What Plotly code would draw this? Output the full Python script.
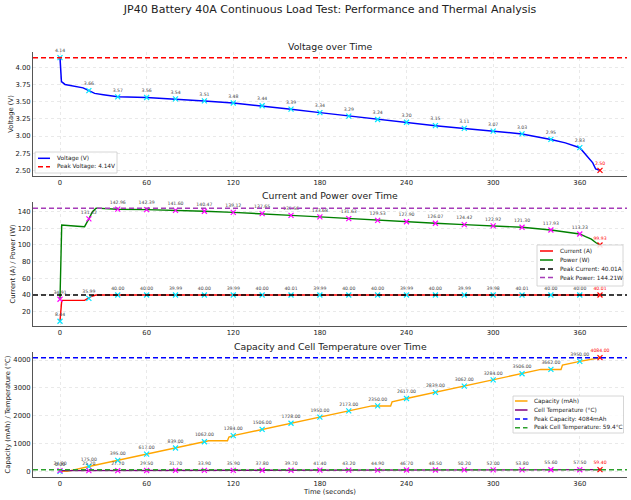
import plotly.graph_objects as go

# ---------------- data ----------------
mark_t = [0, 20, 40, 60, 80, 100, 120, 140, 160, 180, 200, 220, 240, 260, 280, 300, 320, 340, 360, 374]

voltage_mark = [4.14, 3.66, 3.57, 3.56, 3.54, 3.51, 3.48, 3.44, 3.39, 3.34, 3.29, 3.24, 3.20, 3.15, 3.11, 3.07, 3.03, 2.95, 2.83, 2.50]
current_mark = [8.44, 35.99, 40.00, 40.00, 39.99, 40.00, 39.99, 40.00, 40.01, 39.99, 40.00, 40.00, 39.99, 40.00, 39.99, 39.98, 40.01, 40.00, 40.00, 40.01]
power_mark = [34.91, 131.42, 142.96, 142.39, 141.60, 140.47, 139.12, 137.65, 135.56, 133.68, 131.63, 129.53, 127.90, 126.07, 124.42, 122.92, 121.30, 117.93, 113.23, 99.93]
capacity_mark = [0.00, 175.00, 395.00, 617.00, 839.00, 1062.00, 1284.00, 1506.00, 1728.00, 1950.00, 2173.00, 2350.00, 2617.00, 2839.00, 3062.00, 3284.00, 3506.00, 3662.00, 3950.00, 4084.00]
temp_mark = [24.80, 25.70, 27.70, 29.50, 31.70, 33.90, 35.90, 37.80, 39.70, 41.40, 43.20, 44.90, 46.70, 48.50, 50.20, 52.00, 53.80, 55.60, 57.50, 59.40]

volt_t = [0, 1, 3.5, 8, 16, 20, 24, 30, 40, 60, 80, 100, 120, 140, 160, 180, 200, 220, 240, 260, 280, 300, 320, 340, 350, 360, 364, 369, 371, 374]
volt_v = [4.14, 3.79, 3.75, 3.73, 3.70, 3.66, 3.62, 3.60, 3.57, 3.56, 3.54, 3.51, 3.48, 3.44, 3.39, 3.34, 3.29, 3.24, 3.20, 3.15, 3.11, 3.07, 3.03, 2.95, 2.90, 2.83, 2.73, 2.61, 2.52, 2.50]

cur_t = [0, 1.2, 17, 20, 22, 25, 60, 120, 180, 240, 300, 360, 374]
cur_v = [8.44, 33.5, 33.5, 35.99, 38.5, 40.0, 40.0, 39.99, 39.99, 39.99, 39.98, 40.00, 40.01]

pow_t = [0, 1.2, 12, 17, 20, 22.5, 25, 40, 60, 80, 100, 120, 140, 160, 180, 200, 220, 240, 260, 280, 300, 320, 340, 360, 364, 368, 371, 374]
pow_v = [34.91, 124.0, 122.5, 122.0, 131.42, 140.0, 144.21, 142.96, 142.39, 141.60, 140.47, 139.12, 137.65, 135.56, 133.68, 131.63, 129.53, 127.90, 126.07, 124.42, 122.92, 121.30, 117.93, 113.23, 110.0, 107.0, 103.0, 99.93]

cap_t = [0, 5, 20, 40, 60, 80, 100, 103, 116, 117, 120, 140, 160, 180, 200, 216, 229, 230, 240, 260, 280, 300, 320, 333, 347, 348, 360, 374]
cap_v = [0, 0, 175, 395, 617, 839, 1062, 1100, 1100, 1230, 1284, 1506, 1728, 1950, 2173, 2350, 2350, 2500, 2617, 2839, 3062, 3284, 3506, 3662, 3662, 3820, 3950, 4084]

peak_voltage = 4.14
peak_current = 40.01
peak_power = 144.21
peak_capacity = 4084
peak_temp = 59.4

x_ticks = [0, 60, 120, 180, 240, 300, 360]

# ---------------- figure ----------------
FONT = "DejaVu Sans"
W, H = 631, 500
ML, MR, MT, MB = 33, 4, 52, 23
PW, PH = W - ML - MR, H - MT - MB

C_BLUE, C_RED, C_GREEN = "#0000ff", "#ff0000", "#008000"
C_ORANGE, C_PURPLE = "#ffa500", "#800080"
C_PPOW, C_PTEMP = "#a63cb8", "#2ca02c"
DASH = "5px,3px"

fig = go.Figure()


def add_line(x, y, color, xa, ya, width=1.4):
    fig.add_trace(go.Scatter(x=x, y=y, mode="lines", showlegend=False,
                             line=dict(color=color, width=width),
                             xaxis=xa, yaxis=ya, hoverinfo="skip"))


def add_marks(vals, color, xa, ya, fmt="{:.2f}"):
    n = len(vals)
    cols = [color] * (n - 1) + ["red"]
    tcols = ["#444444"] * (n - 1) + ["red"]
    fig.add_trace(go.Scatter(
        x=mark_t, y=vals, mode="markers+text", showlegend=False,
        text=[fmt.format(v) for v in vals], textposition="top center",
        textfont=dict(size=4.6, color=tcols, family=FONT),
        marker=dict(symbol="x-thin", size=5, line=dict(width=1.2, color=cols)),
        xaxis=xa, yaxis=ya, hoverinfo="skip", cliponaxis=False))


# panel 1
add_line(volt_t, volt_v, C_BLUE, "x", "y", 1.5)
add_marks(voltage_mark, "#00e5ff", "x", "y")
# panel 2
add_line(cur_t, cur_v, C_RED, "x2", "y2")
add_line(pow_t, pow_v, C_GREEN, "x2", "y2")
add_marks(current_mark, "#00e5ff", "x2", "y2")
add_marks(power_mark, "#ff00ff", "x2", "y2")
# panel 3
add_line(cap_t, cap_v, C_ORANGE, "x3", "y3")
add_line(mark_t, temp_mark, C_PURPLE, "x3", "y3")
add_marks(capacity_mark, "#00e5ff", "x3", "y3")
add_marks(temp_mark, "#ff00ff", "x3", "y3")

# peak reference lines
peaks = [(peak_voltage, C_RED, "x", "y"), (peak_current, "#000000", "x2", "y2"),
         (peak_power, C_PPOW, "x2", "y2"), (peak_capacity, C_BLUE, "x3", "y3"),
         (peak_temp, C_PTEMP, "x3", "y3")]
for yv, col, xa, ya in peaks:
    fig.add_shape(type="line", xref=f"{xa} domain", x0=0, x1=1, yref=ya, y0=yv, y1=yv,
                  line=dict(color=col, width=1.5, dash=DASH), layer="above")


# ---------------- manual legends (pixel layout) ----------------
def px(xp):
    return (xp - ML) / PW


def py(yp):
    return (H - MB - yp) / PH


legends = [
    dict(box=(35, 152, 117, 173), rows=[158.3, 166.7], sx=(38, 50), tx=55,
         items=[("Voltage (V)", C_BLUE, "solid"), (f"Peak Voltage: {peak_voltage:.2f}V", C_RED, DASH)]),
    dict(box=(537, 245, 623, 286), rows=[251, 260, 269, 277.5], sx=(540, 553), tx=558,
         items=[("Current (A)", C_RED, "solid"), ("Power (W)", C_GREEN, "solid"),
                (f"Peak Current: {peak_current:.2f}A", "#000000", DASH),
                (f"Peak Power: {peak_power:.2f}W", C_PPOW, DASH)]),
    dict(box=(513, 396, 623.5, 433), rows=[401, 410, 419, 427.7], sx=(515, 527.5), tx=532,
         items=[("Capacity (mAh)", C_ORANGE, "solid"), ("Cell Temperature (°C)", C_PURPLE, "solid"),
                (f"Peak Capacity: {peak_capacity}mAh", C_BLUE, DASH),
                (f"Peak Cell Temperature: {peak_temp}°C", C_PTEMP, DASH)]),
]
for lg in legends:
    x0, y0, x1, y1 = lg["box"]
    fig.add_shape(type="rect", xref="paper", yref="paper", x0=px(x0), x1=px(x1), y0=py(y1), y1=py(y0),
                  line=dict(color="#cccccc", width=0.8), fillcolor="rgba(255,255,255,0.85)", layer="above")
    for (label, col, dash), ry in zip(lg["items"], lg["rows"]):
        fig.add_shape(type="line", xref="paper", yref="paper", x0=px(lg["sx"][0]), x1=px(lg["sx"][1]),
                      y0=py(ry), y1=py(ry), line=dict(color=col, width=1.5, dash=dash), layer="above")
        fig.add_annotation(text=label, xref="paper", yref="paper", x=px(lg["tx"]), y=py(ry),
                           xanchor="left", yanchor="middle", showarrow=False,
                           font=dict(size=5.8, family=FONT, color="#222222"))

axis_common = dict(showgrid=True, gridcolor="#e3e3e3", griddash="dot", gridwidth=0.8,
                   showline=True, linecolor="#555555", linewidth=1, ticks="", zeroline=False,
                   automargin=False, tickfont=dict(size=6.8, family=FONT, color="#222222"))
tfont = dict(size=6.8, family=FONT, color="#222222")

xr = [-18.7, 392.7]
doms = [[0.7082, 1.0], [0.3553, 0.6471], [0.0, 0.2941]]
fig.update_layout(
    xaxis=dict(domain=[0, 1], range=xr, tickvals=x_ticks, anchor="y", **axis_common),
    xaxis2=dict(domain=[0, 1], range=xr, tickvals=x_ticks, anchor="y2", **axis_common),
    xaxis3=dict(domain=[0, 1], range=xr, tickvals=x_ticks, anchor="y3",
                title=dict(text="Time (seconds)", font=tfont, standoff=2), **axis_common),
    yaxis=dict(domain=doms[0], range=[2.418, 4.222], tickvals=[2.5, 2.75, 3.0, 3.25, 3.5, 3.75, 4.0],
               tickformat=".2f", anchor="x", title=dict(text="Voltage (V)", font=tfont, standoff=1),
               **axis_common),
    yaxis2=dict(domain=doms[1], range=[2.8, 151.6], tickvals=[20, 40, 60, 80, 100, 120, 140], anchor="x2",
                title=dict(text="Current (A) / Power (W)", font=tfont, standoff=1), **axis_common),
    yaxis3=dict(domain=doms[2], range=[-204, 4288], tickvals=[0, 1000, 2000, 3000, 4000], anchor="x3",
                title=dict(text="Capacity (mAh) / Temperature (°C)", font=tfont, standoff=1),
                **axis_common),
)

titles = ["Voltage over Time", "Current and Power over Time", "Capacity and Cell Temperature over Time"]
for t, d in zip(titles, doms):
    fig.add_annotation(text=t, xref="paper", yref="paper", x=0.5, y=d[1], yshift=6,
                       xanchor="center", yanchor="middle", showarrow=False,
                       font=dict(size=9.3, family=FONT, color="#222222"))

fig.update_layout(
    template="none",
    width=W, height=H,
    margin=dict(l=ML, r=MR, t=MT, b=MB, pad=0),
    paper_bgcolor="white", plot_bgcolor="white",
    title=dict(text="JP40 Battery 40A Continuous Load Test: Performance and Thermal Analysis",
               x=0.5, xanchor="center", xref="paper", y=1 - 9 / H, yanchor="middle",
               font=dict(size=11, family=FONT, color="#222222")),
    font=dict(family=FONT),
    showlegend=False,
    hovermode=False,
)

fig.write_html("out.html", config={"displayModeBar": False, "staticPlot": True},
               post_script="document.body.style.margin='0';")
